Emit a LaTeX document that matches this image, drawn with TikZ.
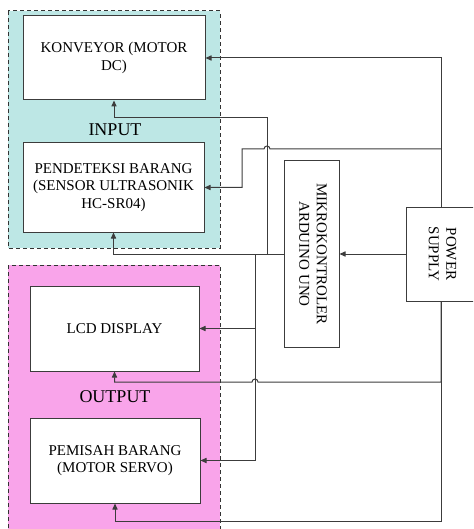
\documentclass[tikz,border=0pt]{standalone}
\usepackage{fontspec}
\setmainfont{Liberation Serif}
\usetikzlibrary{arrows.meta}
\definecolor{inputfill}{RGB}{189,231,229}
\definecolor{outputfill}{RGB}{249,164,234}
\definecolor{linegray}{RGB}{60,60,60}

\begin{document}
\begin{tikzpicture}[x=0.5pt, y=-0.5pt,
    font=\fontsize{7.5pt}{8.75pt}\selectfont,
    block/.style={draw=linegray, line width=0.5pt, fill=white, align=center, inner sep=1pt},
    group/.style={draw=black!80, line width=0.5pt, dash pattern=on 2pt off 1.5pt},
    wire/.style={draw=linegray, line width=0.5pt},
    arr/.style={wire, -{Triangle[length=3pt,width=2.6pt]}},
    grouplabel/.style={font=\fontsize{9pt}{10pt}\selectfont}]
  \clip (0,0) rectangle (473,529);
  % Groups
  \draw[group, fill=inputfill] (8,11) rectangle (220,248);
  \draw[group, fill=outputfill] (8,265) rectangle (220,540);
  \node[grouplabel] (inlabel) at (115,130) {INPUT};
  \node[grouplabel] (outlabel) at (115,397) {OUTPUT};
  % Input blocks
  \node[block, minimum width=91pt, minimum height=42pt] (konv) at (114,58)
    {KONVEYOR (MOTOR\\DC)};
  \node[block, minimum width=90.5pt, minimum height=44.5pt] (sensor) at (113.5,187.5)
    {PENDETEKSI BARANG\\(SENSOR ULTRASONIK\\HC-SR04)};
  % Output blocks
  \node[block, minimum width=84.5pt, minimum height=42.5pt] (lcd) at (114.5,328.5)
    {LCD DISPLAY};
  \node[block, minimum width=85pt, minimum height=42.5pt] (servo) at (115,460.5)
    {PEMISAH BARANG\\(MOTOR SERVO)};
  % Controller and supply
  \node[block, minimum width=27.5pt, minimum height=93pt] (mcu) at (311.5,254)
    {\rotatebox{-90}{\begin{tabular}{@{}c@{}}MIKROKONTROLER\\ARDUINO UNO\end{tabular}}};
  \node[block, minimum width=35pt, minimum height=47pt] (ps) at (441,254)
    {\rotatebox{-90}{\begin{tabular}{@{}c@{}}POWER\\SUPPLY\end{tabular}}};
  % Junctions
  \coordinate (jsup) at (441,149);
  \coordinate (jkonv) at (267,254);
  \coordinate (jout) at (255,254);
  % Power supply lines
  \draw[arr] (ps.north) |- (konv.east);
  \draw[arr] (jsup) -- (270,149) arc[start angle=0, end angle=180, radius=1.5pt]
    -- (242,149) |- (sensor.east);
  \draw[arr] (ps.west) -- (mcu.east);
  \draw[arr] (ps.south) -- (441,382) -- (258,382) arc[start angle=0, end angle=180, radius=1.5pt]
    -| (lcd.south);
  \draw[arr] (ps.south) -- (441,521) -| (servo.south);
  % Controller lines
  \draw[arr] (jkonv) -- (267,118) -| (konv.south);
  \draw[arr] (mcu.west) -| (sensor.south);
  \draw[arr] (jout) |- (lcd.east);
  \draw[arr] (jout) |- (servo.east);
\end{tikzpicture}
\end{document}
